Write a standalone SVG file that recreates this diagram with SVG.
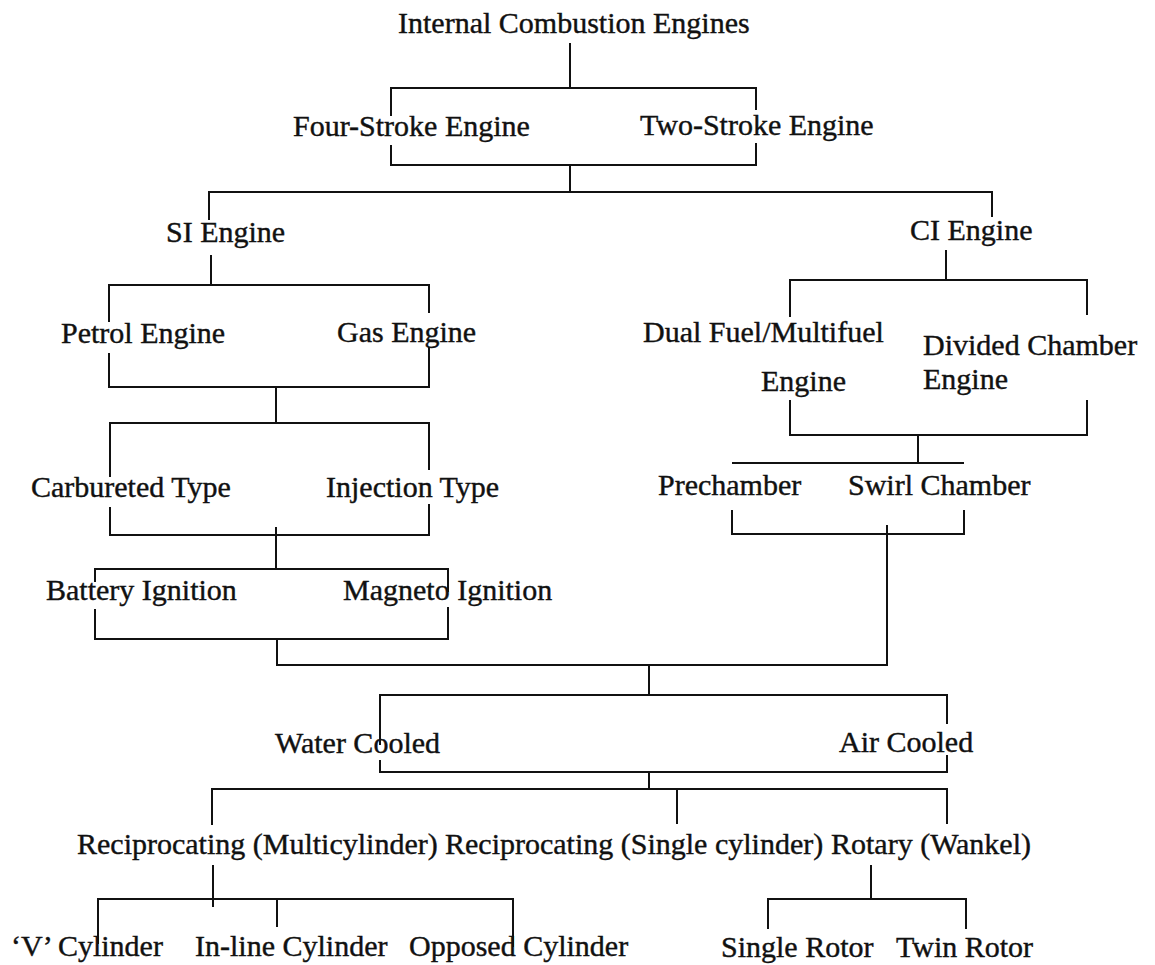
<svg xmlns="http://www.w3.org/2000/svg" width="1155" height="965" viewBox="0 0 1155 965">
<style>
  text { font-family: "Liberation Serif", "Times New Roman", serif; font-size: 30px; fill: #111; stroke: #111; stroke-width: 0.4; }
  .c path { fill: none; stroke: #111; stroke-width: 2; }
</style>
<rect width="1155" height="965" fill="#fff"/>
<g class="c" id="connectors">
  <path d="M570,43 V88"/>
  <path d="M391,116 V88 H756 V110"/>
  <path d="M391,145 V165 H756 V143"/>
  <path d="M570,165 V192"/>
  <path d="M209,220 V192 H992 V217"/>
  <path d="M211,255 V285"/>
  <path d="M109,322 V285 H429 V313"/>
  <path d="M109,353 V387 H429 V347"/>
  <path d="M276,387 V423"/>
  <path d="M110,477 V423 H429 V470"/>
  <path d="M110,507 V535 H429 V504"/>
  <path d="M276,527 V569"/>
  <path d="M95,582 V569 H448 V592"/>
  <path d="M95,609 V639 H448 V607"/>
  <path d="M277,639 V665 H887 V525"/>
  <path d="M946,250 V280"/>
  <path d="M790,317 V280 H1087 V315"/>
  <path d="M790,400 V435 H1087 V400"/>
  <path d="M918,435 V463"/>
  <path d="M732,463 H964"/>
  <path d="M732,510 V534 H964 V510"/>
  <path d="M649,665 V695"/>
  <path d="M380,745 V695 H947 V724"/>
  <path d="M380,760 V772 H947 V755"/>
  <path d="M649,772 V789"/>
  <path d="M212,825 V789 H947 V824"/>
  <path d="M677,789 V824"/>
  <path d="M213,865 V907"/>
  <path d="M98,944 V899 H513 V947"/>
  <path d="M277,899 V927"/>
  <path d="M871,865 V899"/>
  <path d="M768,929 V899 H966 V929"/>
</g>
<g id="n-ice"><text x="398" y="33">Internal Combustion Engines</text></g>
<g id="n-four"><text x="293" y="136">Four-Stroke Engine</text></g>
<g id="n-two"><text x="640" y="135">Two-Stroke Engine</text></g>
<g id="n-si"><text x="166" y="242">SI Engine</text></g>
<g id="n-ci"><text x="910" y="240">CI Engine</text></g>
<g id="n-petrol"><text x="61" y="343">Petrol Engine</text></g>
<g id="n-gas"><text x="337" y="342">Gas Engine</text></g>
<g id="n-dual"><text x="643" y="342">Dual Fuel/Multifuel</text><text x="761" y="391">Engine</text></g>
<g id="n-divided"><text x="923" y="355">Divided Chamber</text><text x="923" y="389">Engine</text></g>
<g id="n-carb"><text x="31" y="497">Carbureted Type</text></g>
<g id="n-inj"><text x="326" y="497">Injection Type</text></g>
<g id="n-pre"><text x="658" y="495">Prechamber</text></g>
<g id="n-swirl"><text x="848" y="495">Swirl Chamber</text></g>
<g id="n-battery"><text x="46" y="600">Battery Ignition</text></g>
<g id="n-magneto"><text x="343" y="600">Magneto Ignition</text></g>
<g id="n-water"><text x="275" y="753">Water Cooled</text></g>
<g id="n-air"><text x="839" y="752">Air Cooled</text></g>
<g id="n-recip-multi"><text x="77" y="854">Reciprocating (Multicylinder)</text></g>
<g id="n-recip-single"><text x="445" y="854">Reciprocating (Single cylinder)</text></g>
<g id="n-rotary"><text x="831" y="854">Rotary (Wankel)</text></g>
<g id="n-v"><text x="11" y="956">‘V’ Cylinder</text></g>
<g id="n-inline"><text x="195" y="956">In-line Cylinder</text></g>
<g id="n-opposed"><text x="409" y="956">Opposed Cylinder</text></g>
<g id="n-single-rotor"><text x="721" y="957">Single Rotor</text></g>
<g id="n-twin-rotor"><text x="896" y="957">Twin Rotor</text></g>
</svg>
